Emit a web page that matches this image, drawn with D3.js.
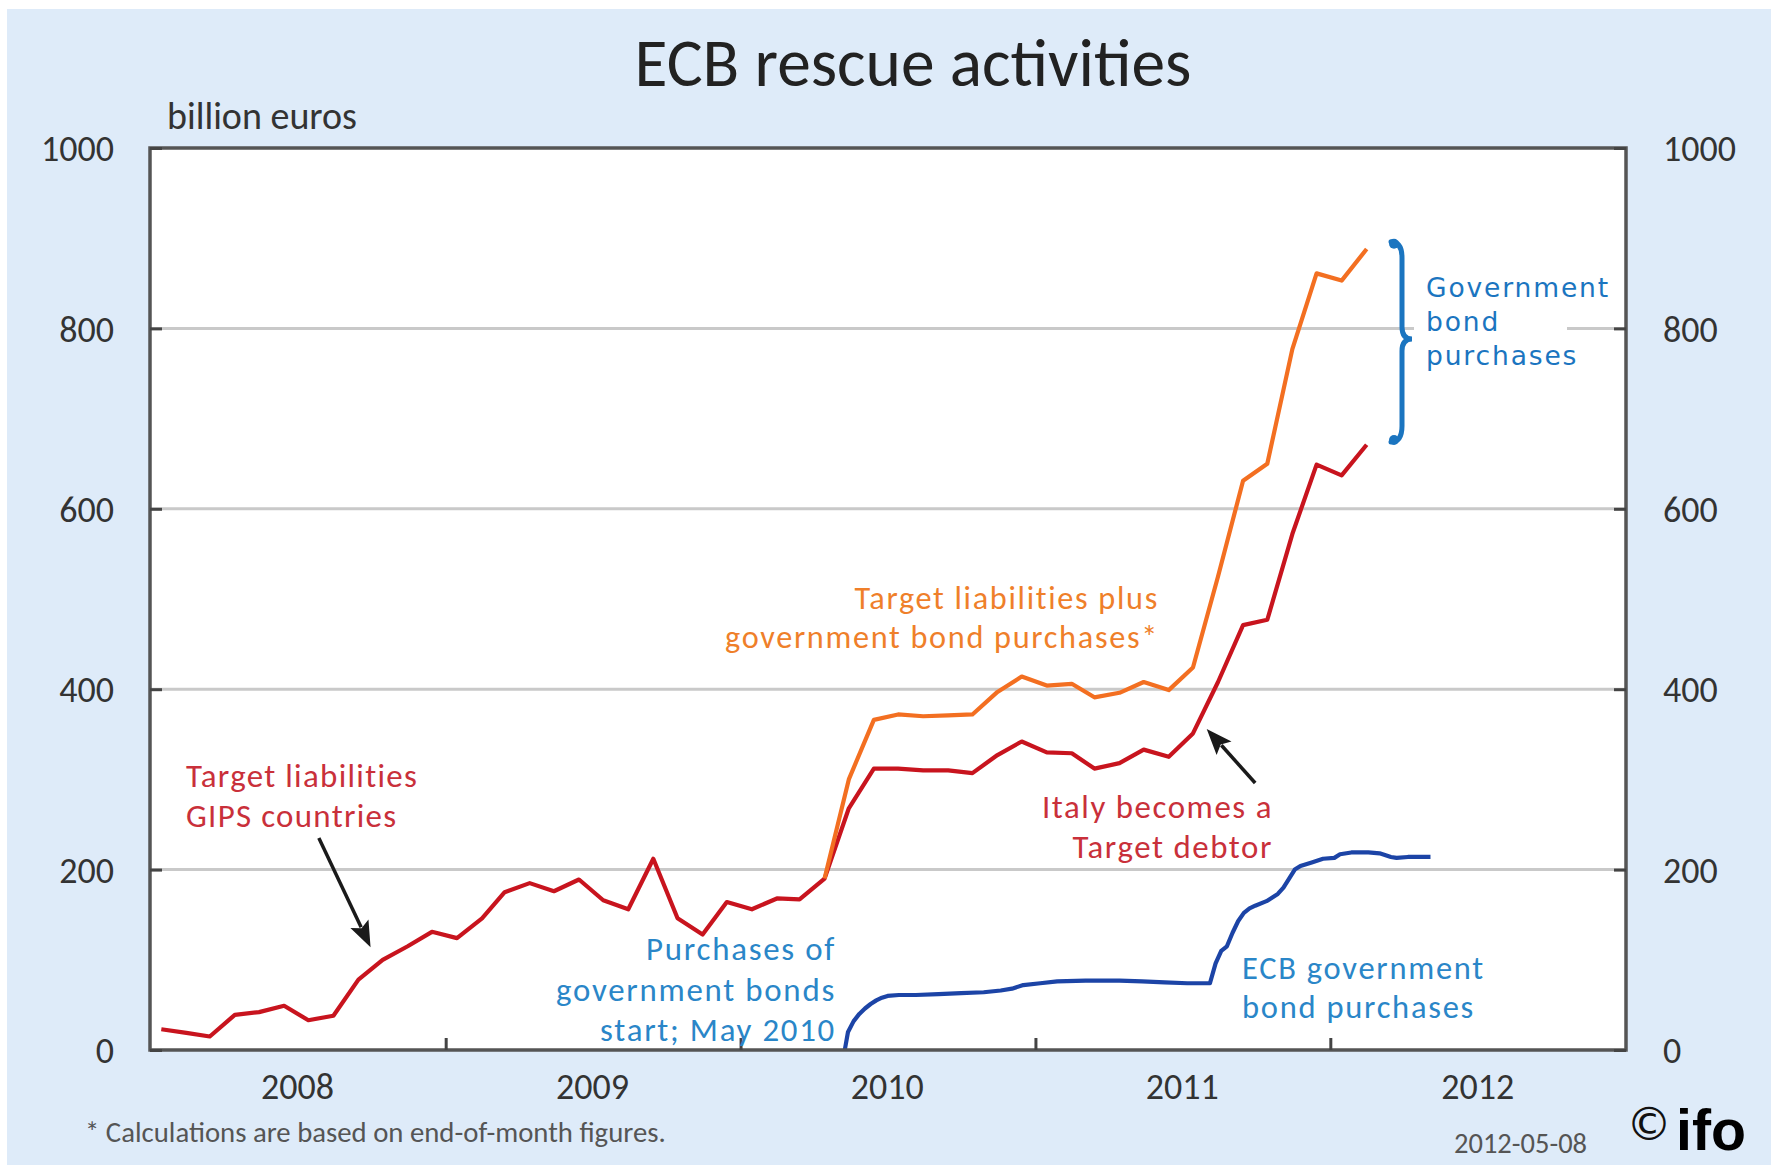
<!DOCTYPE html>
<html><head><meta charset="utf-8">
<script src="https://cdn.jsdelivr.net/npm/d3@7"></script>
<style>
html,body{margin:0;padding:0;background:#fff;}
svg{display:block;}
text{font-family: Carlito, Lato, "Open Sans", sans-serif;}
</style></head><body>
<svg id="chart" width="1771" height="1165"></svg>
<script>
// ---------------- DATA ----------------
const months = ["2008-01","2008-02","2008-03","2008-04","2008-05","2008-06","2008-07","2008-08","2008-09","2008-10","2008-11","2008-12",
"2009-01","2009-02","2009-03","2009-04","2009-05","2009-06","2009-07","2009-08","2009-09","2009-10","2009-11","2009-12",
"2010-01","2010-02","2010-03","2010-04","2010-05","2010-06","2010-07","2010-08","2010-09","2010-10","2010-11","2010-12",
"2011-01","2011-02","2011-03","2011-04","2011-05","2011-06","2011-07","2011-08","2011-09","2011-10","2011-11","2011-12",
"2012-01","2012-02"];
// Target liabilities GIPS countries (billion euros)
const redValues = [23,19,15,39,42,49,33,38,78,100,115,131,
124,146,175,185,176,189,166,156,212,146,128,164,
156,168,167,190,268,312,312,310,310,307,327,342,
330,329,312,318,333,325,351,408,471,477,572,649,
637,671];
// Target liabilities plus government bond purchases
const orangeMonths = ["2010-04","2010-05","2010-06","2010-07","2010-08","2010-09","2010-10","2010-11","2010-12",
"2011-01","2011-02","2011-03","2011-04","2011-05","2011-06","2011-07","2011-08","2011-09","2011-10","2011-11","2011-12",
"2012-01","2012-02"];
const orangeValues = [190,300,366,372,370,371,372,397,414,
404,406,391,396,408,399,424,525,631,650,777,861,
853,888];
// ECB government bond purchases (weekly)
const blueDates = ["2010-05-10","2010-05-14","2010-05-21","2010-05-28","2010-06-04","2010-06-11","2010-06-18","2010-06-25","2010-07-02",
"2010-07-16","2010-08-06","2010-09-03","2010-10-01","2010-10-29","2010-11-19","2010-12-03","2010-12-17","2011-01-07","2011-01-28",
"2011-03-04","2011-04-15","2011-05-13","2011-06-10","2011-07-08","2011-08-05","2011-08-12","2011-08-19","2011-08-26","2011-09-02",
"2011-09-09","2011-09-16","2011-09-23","2011-09-30","2011-10-14","2011-10-28","2011-11-04","2011-11-11","2011-11-18","2011-11-25",
"2011-12-09","2011-12-23","2012-01-06","2012-01-13","2012-01-27","2012-02-17","2012-03-02","2012-03-16","2012-03-23","2012-04-06","2012-05-04"];
const blueValues = [0,20,32,40,46,51,55,58,60,
61,61,62,63,64,66,68,72,74,76,
77,77,76,75,74,74,96,110,115,130,
143,152,157,160,165,173,180,190,200,204,
208,212,213,217,219,219,218,214,213,214,214];
const yTicks = [0,200,400,600,800,1000];
const yearLabels = ["2008","2009","2010","2011","2012"];
const yearBoundaries = ["2009-01-01","2010-01-01","2011-01-01","2012-01-01"];

// ---------------- CHART ----------------
const W = 1771, H = 1165;
const svg = d3.select("#chart");
const parse = d3.timeParse("%Y-%m-%d");
const mid = m => parse(m + "-15");
const M = {l:150, r:1626, t:148, b:1050};
const x = d3.scaleTime().domain([parse("2008-01-01"), parse("2013-01-01")]).range([M.l, M.r]);
const y = d3.scaleLinear().domain([0,1000]).range([M.b, M.t]);

function maxW(sel){ return d3.max(sel.nodes(), n => n.getComputedTextLength()); }
function fit(sel, target){
  const w = maxW(sel);
  const fs = parseFloat(sel.attr("font-size"));
  sel.attr("font-size", fs * target / w);
  return fs * target / w;
}

// background
svg.append("rect").attr("x",7).attr("y",9).attr("width",W-7).attr("height",H-9).attr("fill","#DEEBF9");
// plot area
svg.append("rect").attr("x",M.l).attr("y",M.t).attr("width",M.r-M.l).attr("height",M.b-M.t).attr("fill","#fff");

// gridlines
svg.append("g").selectAll("line").data(yTicks.filter(v => v>0 && v<1000)).join("line")
  .attr("x1",M.l).attr("x2",M.r).attr("y1",d=>y(d)).attr("y2",d=>y(d))
  .attr("stroke","#C9C9C9").attr("stroke-width",3);

// white box behind "Government bond purchases"
svg.append("rect").attr("x",1414).attr("y",262).attr("width",153).attr("height",110).attr("fill","#fff");

// lines
const line = d3.line().x(d=>x(d[0])).y(d=>y(d[1]));
svg.append("path").datum(months.map((m,i)=>[mid(m), redValues[i]]))
  .attr("d",line).attr("fill","none").attr("stroke","#C8141E").attr("stroke-width",4.2).attr("stroke-linejoin","round");
svg.append("path").datum(orangeMonths.map((m,i)=>[mid(m), orangeValues[i]]))
  .attr("d",line).attr("fill","none").attr("stroke","#F36F21").attr("stroke-width",4.2).attr("stroke-linejoin","round");
svg.append("path").datum(blueDates.map((d,i)=>[parse(d), blueValues[i]]))
  .attr("d",line).attr("fill","none").attr("stroke","#1C44A6").attr("stroke-width",4.2).attr("stroke-linejoin","round");

// frame
svg.append("rect").attr("x",M.l).attr("y",M.t).attr("width",M.r-M.l).attr("height",M.b-M.t)
  .attr("fill","none").attr("stroke","#555").attr("stroke-width",3.5);

// axes
const fmt = d3.format("d");
const axL = svg.append("g").attr("transform",`translate(${M.l},0)`)
  .call(d3.axisLeft(y).tickValues(yTicks).tickFormat(fmt).tickSize(-12).tickPadding(36));
const axR = svg.append("g").attr("transform",`translate(${M.r},0)`)
  .call(d3.axisRight(y).tickValues(yTicks).tickFormat(fmt).tickSize(-12).tickPadding(37));
const axB = svg.append("g").attr("transform",`translate(0,${M.b})`)
  .call(d3.axisBottom(x).tickValues(yearBoundaries.map(parse)).tickSize(-12).tickFormat(""));
const axBL = svg.append("g").attr("transform",`translate(0,${M.b})`)
  .call(d3.axisBottom(x).tickValues(yearLabels.map(s=>parse(s+"-07-01"))).tickSize(0).tickFormat(d3.timeFormat("%Y")));
[axL,axR,axB,axBL].forEach(a=>{
  a.select(".domain").remove();
  a.selectAll(".tick line").attr("stroke","#444").attr("stroke-width",3);
  a.selectAll("text").attr("font-family",null).attr("fill","#333").attr("font-size",32);
});
axL.selectAll("text").attr("dy","0.35em");
axR.selectAll("text").attr("dy","0.35em");
axBL.selectAll("text").attr("y",36).attr("dy","0.35em");
const lab1000 = axL.selectAll("text").filter(d=>d===1000);
const tickFs = fit(lab1000, 73);
axL.selectAll("text").attr("font-size",tickFs);
axR.selectAll("text").attr("font-size",tickFs);
axBL.selectAll("text").attr("font-size",tickFs);

// title
const title = svg.append("text").attr("x",913).attr("y",86).attr("text-anchor","middle")
  .attr("font-size",56).attr("fill","#222").text("ECB rescue activities");
fit(title, 557);
const unit = svg.append("text").attr("x",167).attr("y",116).attr("dy","0.35em")
  .attr("font-size",28).attr("fill","#333").text("billion euros");
fit(unit, 190);

// annotation blocks: size to ~90% of target width, fill rest with slight letter spacing,
// and use a line pitch that keeps the line boxes from overlapping
function block(lines, xPos, yCenter, pitch, anchor, color, target, family, emH){
  const g = svg.append("g");
  const t = g.selectAll("text").data(lines).join("text")
    .attr("x",xPos).attr("dy","0.35em")
    .attr("text-anchor",anchor).attr("fill",color).attr("font-size",30).text(d=>d);
  if (family) t.style("font-family", family);
  const fs0 = fit(t, target);
  const fs = fs0 * 0.9;
  t.attr("font-size", fs);
  let best = null, bw = 0;
  t.each(function(){ const w = this.getComputedTextLength(); if (w > bw){ bw = w; best = this; } });
  t.attr("letter-spacing", (target - bw) / best.textContent.length);
  const p = Math.max(pitch, fs * (emH || 1.2) + 0.6);
  const n = lines.length;
  t.attr("y", (d,i) => yCenter + (i - (n-1)/2) * p);
  return t;
}
block(["Target liabilities","GIPS countries"], 186, 795.5, 34, "start", "#C9303A", 232);
block(["Target liabilities plus","government bond purchases*"], 1159, 617, 34, "end", "#EF7F2A", 434);
block(["Italy becomes a","Target debtor"], 1273, 826.5, 34, "end", "#C9303A", 231);
block(["Purchases of","government bonds","start; May 2010"], 836, 989, 34, "end", "#2A86C8", 280);
block(["ECB government","bond purchases"], 1242, 987, 33, "start", "#2A86C8", 243);
block(["Government","bond","purchases"], 1426, 322, 34, "start", "#1B75C0", 184, "'DejaVu Sans', sans-serif", 1.17);

// brace
const bTop = y(orangeValues[orangeValues.length-1] + 8);
const bBot = y(redValues[redValues.length-1] + 3);
const bMid = (bTop + bBot)/2 - 3;
const x0 = 1391, xm = 1402, xt = 1412;
svg.append("path")
  .attr("d",`M${x0},${bTop} Q${xm},${bTop} ${xm},${bTop+16} L${xm},${bMid-12} Q${xm},${bMid} ${xt},${bMid} Q${xm},${bMid} ${xm},${bMid+12} L${xm},${bBot-16} Q${xm},${bBot} ${x0},${bBot}`)
  .attr("fill","none").attr("stroke","#1B75C0").attr("stroke-width",5).attr("stroke-linecap","round");
svg.append("g").selectAll("circle").data([bTop+2,bBot-2]).join("circle")
  .attr("cx",x0+3).attr("cy",d=>d).attr("r",5).attr("fill","#1B75C0");

// arrows
function arrow(from, to){
  const x1 = x(parse(from[0])), y1 = y(from[1]), x2 = x(parse(to[0])), y2 = y(to[1]);
  const dx = x2-x1, dy = y2-y1, L = Math.hypot(dx,dy), ux = dx/L, uy = dy/L;
  const hl = 26, hw = 10;
  const bx = x2 - ux*hl, by = y2 - uy*hl;
  svg.append("line").attr("x1",x1).attr("y1",y1).attr("x2",bx+ux*4).attr("y2",by+uy*4)
    .attr("stroke","#1a1a1a").attr("stroke-width",3.5);
  svg.append("path").attr("d",`M${x2},${y2} L${bx-uy*hw},${by+ux*hw} L${bx+ux*5},${by+uy*5} L${bx+uy*hw},${by-ux*hw} Z`)
    .attr("fill","#1a1a1a");
}
arrow(["2008-07-28",235], ["2008-09-30",114]);
arrow(["2011-09-30",296], ["2011-08-01",356]);

// footer
const foot = svg.append("text").attr("x",85).attr("y",1132).attr("dy","0.35em")
  .attr("font-size",24).attr("fill","#555").text("* Calculations are based on end-of-month figures.");
fit(foot, 581);
const date = svg.append("text").attr("x",1587).attr("y",1143).attr("dy","0.35em").attr("text-anchor","end")
  .attr("font-size",24).attr("fill","#555").text("2012-05-08");
fit(date, 133);
svg.append("text").attr("x",1649).attr("y",1124).attr("dy","0.35em").attr("text-anchor","middle")
  .attr("font-size",46).attr("fill","#111").style("font-family","'DejaVu Sans', sans-serif").text("©");
const ifo = svg.append("text").attr("x",1676).attr("y",1150)
  .attr("font-size",60).attr("font-weight",900).attr("fill","#000")
  .style("font-family","'Liberation Sans', Arial, sans-serif").text("ifo");
fit(ifo, 70);
</script>
</body></html>
